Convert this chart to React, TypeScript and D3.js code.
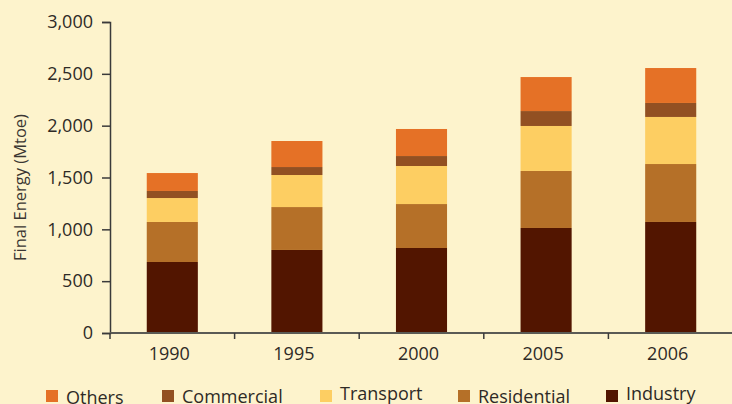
import * as d3 from "d3";
import { useEffect, useRef } from "react";

const years = ["1990", "1995", "2000", "2005", "2006"];
const industry = [685, 801, 820, 1013, 1071];
const residential = [386, 414, 424, 550, 559];
const transport = [231, 309, 367, 434, 454];
const commercial = [68, 77, 96, 144, 135];
const others = [173, 251, 261, 328, 337];
const yTicks = [0, 500, 1000, 1500, 2000, 2500, 3000];

const seriesNames = ["Industry", "Residential", "Transport", "Commercial", "Others"];
const seriesValues = [industry, residential, transport, commercial, others];
const colors = ["#521500", "#b57028", "#fdce62", "#925022", "#e57126"];

// legend order as shown, left to right
const legendOrder = ["Others", "Commercial", "Transport", "Residential", "Industry"];
const legendX = [46, 162, 320, 458, 606];
const legendBase = [403.5, 402.5, 400, 403, 400];

const W = 732;
const H = 404;
const margin = { top: 22, bottom: 71, left: 110, right: 0 };
const FONT = "'Open Sans', 'Noto Sans', sans-serif";
const TEXT = "#2e2a26";

const App = () => {
	const ref = useRef(null);

	useEffect(() => {
		const svg = d3.select(ref.current);
		svg.selectAll("*").remove();

		svg.append("rect").attr("width", W).attr("height", H).attr("fill", "#fdf3cc");

		const x = d3.scaleBand().domain(years).range([margin.left, W + 1]).padding(0);
		const y = d3.scaleLinear().domain([0, 3000]).range([H - margin.bottom, margin.top]);

		const table = years.map((yr, i) => {
			const row = { year: yr };
			seriesNames.forEach((s, j) => (row[s] = seriesValues[j][i]));
			return row;
		});
		const stacked = d3.stack().keys(seriesNames)(table);

		const barW = x.bandwidth() * 0.41;
		const g = svg.append("g");
		stacked.forEach((layer, j) => {
			g.selectAll(null)
				.data(layer)
				.enter()
				.append("rect")
				.attr("x", d => x(d.data.year) + (x.bandwidth() - barW) / 2)
				.attr("y", d => y(d[1]))
				.attr("width", barW)
				.attr("height", d => y(d[0]) - y(d[1]))
				.attr("fill", colors[j]);
		});

		// y axis
		const yAxis = svg.append("g")
			.attr("transform", `translate(${margin.left},0)`)
			.call(d3.axisLeft(y).tickValues(yTicks).tickSize(8).tickPadding(9).tickFormat(d3.format(",")));
		yAxis.select(".domain").attr("stroke", "#3a3a3a").attr("stroke-width", 1.5);
		yAxis.selectAll(".tick line").attr("stroke", "#3a3a3a").attr("stroke-width", 1.5);
		yAxis.selectAll("text").attr("font-family", FONT).attr("font-size", 18).attr("fill", TEXT);

		// x axis, ticks at band boundaries
		const bottom = H - margin.bottom;
		const xg = svg.append("g");
		xg.append("line")
			.attr("x1", margin.left).attr("x2", W)
			.attr("y1", bottom).attr("y2", bottom)
			.attr("stroke", "#5a5a55").attr("stroke-width", 2);
		years.forEach(yr => {
			const bx = x(yr);
			if (bx > margin.left) {
				xg.append("line")
					.attr("x1", bx).attr("x2", bx)
					.attr("y1", bottom).attr("y2", bottom + 6)
					.attr("stroke", "#3a3a3a").attr("stroke-width", 1.5);
			}
			xg.append("text")
				.attr("x", bx + x.bandwidth() / 2 - 3)
				.attr("y", bottom + 27)
				.attr("text-anchor", "middle")
				.attr("font-family", FONT).attr("font-size", 18).attr("fill", TEXT)
				.text(yr);
		});
		xg.append("line")
			.attr("x1", margin.left).attr("x2", margin.left)
			.attr("y1", bottom).attr("y2", bottom + 6)
			.attr("stroke", "#3a3a3a").attr("stroke-width", 1.5);

		// y label
		svg.append("text")
			.attr("transform", `translate(26,${(margin.top + bottom) / 2 + 10}) rotate(-90)`)
			.attr("text-anchor", "middle")
			.attr("font-family", FONT).attr("font-size", 16.5).attr("fill", "#3a3632")
			.text("Final Energy (Mtoe)");

		// legend
		legendOrder.forEach((name, i) => {
			const j = seriesNames.indexOf(name);
			const lg = svg.append("g").attr("transform", `translate(${legendX[i]},0)`);
			lg.append("rect").attr("y", 390).attr("width", 12).attr("height", 12).attr("fill", colors[j]);
			lg.append("text")
				.attr("x", 20).attr("y", legendBase[i])
				.attr("font-family", FONT).attr("font-size", 18).attr("fill", TEXT)
				.text(name);
		});
	}, []);

	return (
		<div style={{ position: "fixed", left: 0, top: 0 }}>
			<svg ref={ref} width={W} height={H} style={{ display: "block" }}></svg>
		</div>
	);
};

export default App;
